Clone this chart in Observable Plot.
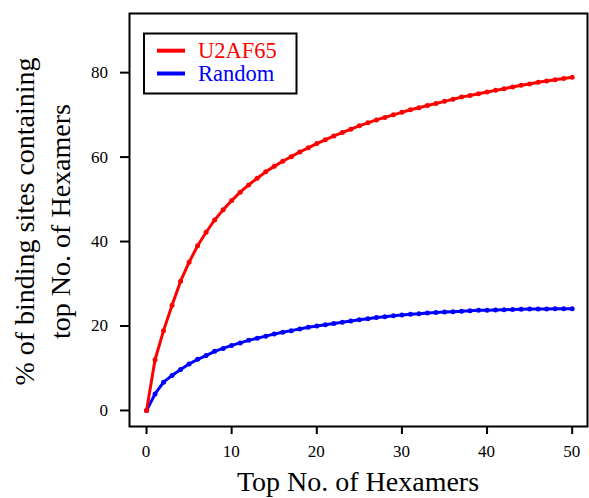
<!DOCTYPE html>
<html>
<head>
<meta charset="utf-8">
<script src="https://cdn.jsdelivr.net/npm/d3@7"></script>
<script src="https://cdn.jsdelivr.net/npm/@observablehq/plot@0.6"></script>
<style>
  html, body { margin: 0; padding: 0; background: #fff; }
  #chart svg { display: block; }
</style>
</head>
<body>
<div id="chart"></div>
<script>
// Top number of hexamers (x)
const hexamers = d3.range(0, 51);
// % of binding sites containing top hexamers
const u2af65 = [
  0, 12.0, 18.9, 24.9, 30.6, 35.1, 39.0, 42.2, 45.1, 47.5,
  49.7, 51.7, 53.4, 55.0, 56.5, 57.8, 59.0, 60.1, 61.2, 62.2,
  63.2, 64.1, 65.0, 65.8, 66.6, 67.4, 68.1, 68.8, 69.4, 70.0,
  70.6, 71.2, 71.7, 72.2, 72.7, 73.2, 73.7, 74.2, 74.6, 75.0,
  75.4, 75.8, 76.2, 76.6, 77.0, 77.3, 77.7, 78.0, 78.3, 78.6,
  78.9
];
const random = [
  0, 3.9, 6.7, 8.3, 9.7, 11.0, 12.1, 13.0, 14.0, 14.7,
  15.4, 16.0, 16.6, 17.1, 17.6, 18.1, 18.5, 18.9, 19.3, 19.7,
  20.0, 20.3, 20.6, 20.9, 21.2, 21.5, 21.7, 22.0, 22.2, 22.4,
  22.6, 22.8, 22.9, 23.1, 23.2, 23.3, 23.4, 23.5, 23.6, 23.7,
  23.75, 23.8, 23.85, 23.9, 23.95, 24.0, 24.0, 24.05, 24.1, 24.1,
  24.1
];
const seriesNames = ["U2AF65", "Random"];
const seriesColors = ["#ff0000", "#0000ff"];
const xTicks = [0, 10, 20, 30, 40, 50];
const yTicks = [0, 20, 40, 60, 80];
const xTitle = "Top No. of Hexamers";
const yTitle = ["% of binding sites containing", "top No. of Hexamers"];

const uData = hexamers.map((h, i) => ({x: h, y: u2af65[i]}));
const rData = hexamers.map((h, i) => ({x: h, y: random[i]}));

const W = 589, H = 498, ML = 129, MR = 2, MT = 13, MB = 72;
const font = "Liberation Serif";

const plot = Plot.plot({
  width: W, height: H,
  marginLeft: ML, marginRight: MR, marginTop: MT, marginBottom: MB,
  style: {background: "#fff", color: "#000"},
  x: {domain: [-2, 51.8], label: null},
  y: {domain: [-3.8, 94], label: null},
  marks: [
    Plot.axisX({ticks: xTicks, tickSize: 8, strokeWidth: 2, tickFormat: () => "", label: null}),
    Plot.axisY({ticks: yTicks, tickSize: 9, strokeWidth: 2, tickFormat: () => "", label: null}),
    Plot.line(rData, {x: "x", y: "y", stroke: seriesColors[1], strokeWidth: 3}),
    Plot.dot(rData, {x: "x", y: "y", r: 2.5, fill: seriesColors[1]}),
    Plot.line(uData, {x: "x", y: "y", stroke: seriesColors[0], strokeWidth: 3}),
    Plot.dot(uData, {x: "x", y: "y", r: 2.5, fill: seriesColors[0]}),
    Plot.frame({stroke: "#000", strokeWidth: 2})
  ]
});

const svg = d3.select(plot);
const xs = plot.scale("x"), ys = plot.scale("y");
const cx = (ML + (W - MR)) / 2;
const cy = (MT + (H - MB)) / 2;

function addText(x, y, size, anchor, fill, str, transform) {
  const t = svg.append("text")
    .attr("x", x).attr("y", y)
    .attr("text-anchor", anchor)
    .attr("font-family", font)
    .attr("font-size", size)
    .attr("fill", fill)
    .text(str);
  if (transform) t.attr("transform", transform);
  return t;
}

// tick labels positioned through Plot's own scales
xTicks.forEach(v => addText(xs.apply(v), 457, 17, "middle", "#000", String(v)));
yTicks.forEach(v => addText(108, ys.apply(v) + 6, 17, "end", "#000", String(v)));

// x title
addText(cx, 491, 28, "middle", "#000", xTitle);

// y title (two lines)
const yBase = [34, 70];
yTitle.forEach((t, i) => addText(0, 0, 28, "middle", "#000", t, `translate(${yBase[i]},${cy + 2}) rotate(-90)`));

// legend
svg.append("rect")
  .attr("x", 144).attr("y", 33.5).attr("width", 152.5).attr("height", 60)
  .attr("fill", "#fff").attr("stroke", "#000").attr("stroke-width", 2);
const lgY = [50.7, 73.5];
seriesNames.forEach((name, i) => {
  svg.append("line")
    .attr("x1", 157).attr("x2", 185).attr("y1", lgY[i]).attr("y2", lgY[i])
    .attr("stroke", seriesColors[i]).attr("stroke-width", 4);
  addText(198, lgY[i] + 7.5, 22.5, "start", seriesColors[i], name);
});

document.getElementById("chart").appendChild(plot);
</script>
</body>
</html>
